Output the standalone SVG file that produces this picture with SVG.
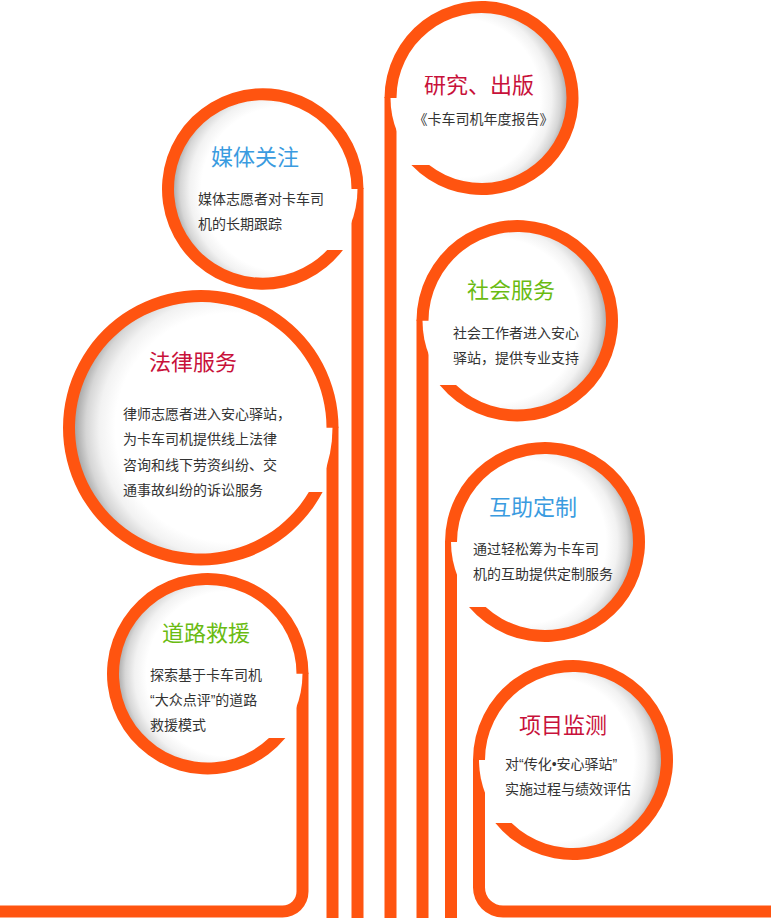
<svg xmlns="http://www.w3.org/2000/svg" width="771" height="918" viewBox="0 0 771 918">
<defs>
<radialGradient id="shadeL" cx="0.39" cy="0.5" r="0.62" fx="0.39" fy="0.5">
<stop offset="0" stop-color="#ffffff"/>
<stop offset="0.7" stop-color="#ffffff"/>
<stop offset="0.8" stop-color="#f2f2f2"/>
<stop offset="0.88" stop-color="#d6d6d6"/>
<stop offset="0.94" stop-color="#acacac"/>
<stop offset="1" stop-color="#8a8a8a"/>
</radialGradient>
<radialGradient id="shadeR" cx="0.61" cy="0.5" r="0.62" fx="0.61" fy="0.5">
<stop offset="0" stop-color="#ffffff"/>
<stop offset="0.7" stop-color="#ffffff"/>
<stop offset="0.8" stop-color="#f2f2f2"/>
<stop offset="0.88" stop-color="#d6d6d6"/>
<stop offset="0.94" stop-color="#acacac"/>
<stop offset="1" stop-color="#8a8a8a"/>
</radialGradient>
</defs>
<style>
.ring{fill:#ff5410}
.stem{fill:#ff5410}
.t{font-family:"Liberation Sans","Noto Sans CJK SC",sans-serif;font-size:22px}
.b{font-family:"Liberation Sans","Noto Sans CJK SC",sans-serif;font-size:14px;fill:#333333}
.red{fill:#c8113a}
.blue{fill:#3a9be0}
.green{fill:#6abb12}
</style>
<rect width="771" height="918" fill="#ffffff"/>
<g id="connectors">
<path class="stem" d="M384.5 97 L396.5 97 L396.5 918 L384.5 918 Z"/>
<path class="stem" d="M351.5 188 L363.5 188 L363.5 918 L351.5 918 Z"/>
<path class="stem" d="M326.5 426.75 L338.5 426.75 L338.5 918 L326.5 918 Z"/>
<path class="stem" d="M416.5 319.75 L428.5 319.75 L428.5 918 L416.5 918 Z"/>
<path class="stem" d="M445 541 L457 541 L457 918 L445 918 Z"/>
<path class="stem" d="M296.5 672.75 L308.5 672.75 L308.5 891.5 A26 26 0 0 1 282.5 917.5 L0 917.5 L0 905.5 L282.5 905.5 A14 14 0 0 0 296.5 891.5 Z"/>
<path class="stem" d="M473 759 L485 759 L485 887.5 A18 18 0 0 0 503 905.5 L771 905.5 L771 917.5 L503 917.5 A30 30 0 0 1 473 887.5 Z"/>
</g>
<g id="node-yanjiu">
<circle cx="481.5" cy="98" r="91" fill="url(#shadeL)"/>
<path class="ring" d="M384.5 98 A97 97 0 1 1 411.36 165 L429.19 165 A85 85 0 1 0 396.5 98 Z"/>
<text class="t red" x="424" y="93">研究、出版</text>
<text class="b" x="413.5" y="124">《卡车司机年度报告》</text>
</g>
<g id="node-meiti">
<circle cx="262.75" cy="189" r="94.75" fill="url(#shadeR)"/>
<path class="ring" d="M363.5 189 A100.75 100.75 0 1 0 342.93 250 L327.21 250 A88.75 88.75 0 1 1 351.5 189 Z"/>
<text class="t blue" x="211" y="165">媒体关注</text>
<text class="b" x="198" y="204">媒体志愿者对卡车司</text>
<text class="b" x="198" y="229">机的长期跟踪</text>
</g>
<g id="node-falv">
<circle cx="200.75" cy="427.75" r="131.75" fill="url(#shadeR)"/>
<path class="ring" d="M338.5 427.75 A137.75 137.75 0 1 0 322.6 492 L308.85 492 A125.75 125.75 0 1 1 326.5 427.75 Z"/>
<text class="t red" x="149" y="370">法律服务</text>
<text class="b" x="123" y="419">律师志愿者进入安心驿站，</text>
<text class="b" x="123" y="444">为卡车司机提供线上法律</text>
<text class="b" x="123" y="470">咨询和线下劳资纠纷、交</text>
<text class="b" x="123" y="495">通事故纠纷的诉讼服务</text>
</g>
<g id="node-shehui">
<circle cx="517.25" cy="320.75" r="94.75" fill="url(#shadeL)"/>
<path class="ring" d="M416.5 320.75 A100.75 100.75 0 1 1 439.65 385 L456.02 385 A88.75 88.75 0 1 0 428.5 320.75 Z"/>
<text class="t green" x="467" y="298">社会服务</text>
<text class="b" x="453" y="338">社会工作者进入安心</text>
<text class="b" x="453" y="363">驿站，提供专业支持</text>
</g>
<g id="node-huzhu">
<circle cx="545" cy="542" r="94" fill="url(#shadeL)"/>
<path class="ring" d="M445 542 A100 100 0 1 1 469.01 607 L485.68 607 A88 88 0 1 0 457 542 Z"/>
<text class="t blue" x="489" y="515">互助定制</text>
<text class="b" x="473" y="554">通过轻松筹为卡车司</text>
<text class="b" x="473" y="579">机的互助提供定制服务</text>
</g>
<g id="node-daolu">
<circle cx="207.75" cy="673.75" r="94.75" fill="url(#shadeR)"/>
<path class="ring" d="M308.5 673.75 A100.75 100.75 0 1 0 285.35 738 L268.98 738 A88.75 88.75 0 1 1 296.5 673.75 Z"/>
<text class="t green" x="162" y="641">道路救援</text>
<text class="b" x="150" y="680">探索基于卡车司机</text>
<text class="b" x="150" y="705">“大众点评”的道路</text>
<text class="b" x="150" y="730">救援模式</text>
</g>
<g id="node-xiangmu">
<circle cx="573" cy="760" r="94" fill="url(#shadeL)"/>
<path class="ring" d="M473 760 A100 100 0 1 1 495.34 823 L511.56 823 A88 88 0 1 0 485 760 Z"/>
<text class="t red" x="519" y="733">项目监测</text>
<text class="b" x="505" y="769">对“传化•安心驿站”</text>
<text class="b" x="505" y="794">实施过程与绩效评估</text>
</g>
</svg>
